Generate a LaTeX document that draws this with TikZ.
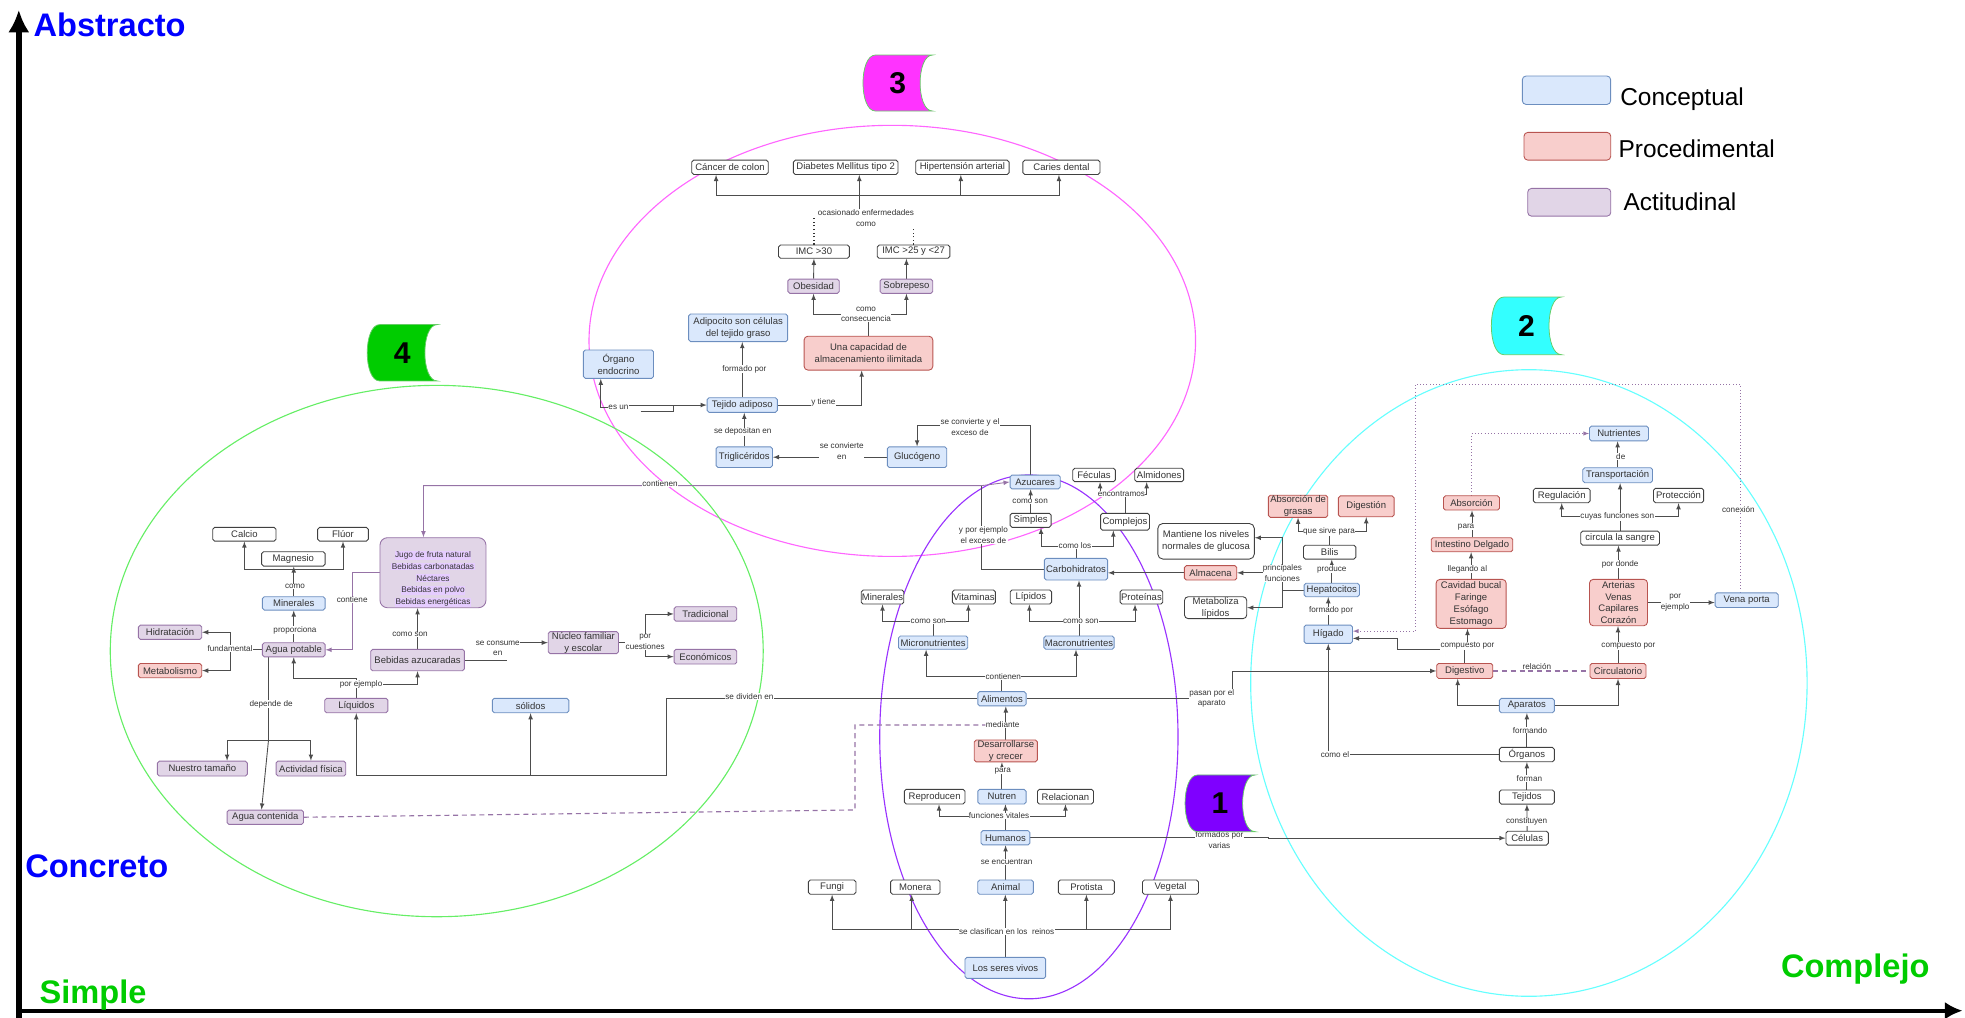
\documentclass[tikz,border=0pt]{standalone}
\usepackage{fontspec}
\setmainfont{Liberation Sans}
\usetikzlibrary{arrows.meta}
\pgfdeclarelayer{edgelayer}
\pgfdeclarelayer{nodelayer}
\pgfsetlayers{edgelayer,nodelayer,main}
\definecolor{concfondo}{HTML}{DAE8FC}
\definecolor{concborde}{HTML}{6C8EBF}
\definecolor{procfondo}{HTML}{F8CECC}
\definecolor{procborde}{HTML}{B85450}
\definecolor{actifondo}{HTML}{E1D5E7}
\definecolor{actiborde}{HTML}{9673A6}
\definecolor{resalte}{HTML}{E5CCFF}
\definecolor{gristexto}{HTML}{333333}
\definecolor{grislinea}{HTML}{4D4D4D}
\definecolor{rosa}{HTML}{FF66FF}
\definecolor{verdeclaro}{HTML}{66EE66}
\definecolor{violeta}{HTML}{9933FF}
\definecolor{celeste}{HTML}{66FFFF}
\definecolor{azultitulo}{HTML}{0000FF}
\definecolor{verdetitulo}{HTML}{00CC00}
\definecolor{insignia3}{HTML}{FF33FF}
\definecolor{insignia4}{HTML}{00CC00}
\definecolor{insignia2}{HTML}{33FFFF}
\definecolor{insignia1}{HTML}{7F00FF}
\definecolor{bordeinsignia}{HTML}{66CC66}
\setlength{\fboxsep}{0.4pt}
\tikzstyle{caja}=[rectangle, rounded corners=1.5pt, line width=0.7pt, text=gristexto, font={\fontsize{7.6}{9.4}\selectfont}, inner sep=0.5pt, align=center, minimum height=11.4pt]
\tikzstyle{conceptual}=[caja, draw=concborde, fill=concfondo]
\tikzstyle{procedimental}=[caja, draw=procborde, fill=procfondo]
\tikzstyle{actitudinal}=[caja, draw=actiborde, fill=actifondo]
\tikzstyle{blanco}=[caja, draw=black!75, fill=white]
\tikzstyle{enlace}=[fill=white, inner sep=0.3pt, text=gristexto, font={\fontsize{6.5}{8.4}\selectfont}, align=center]
\tikzstyle{conector}=[draw=grislinea, line width=0.7pt]
\tikzstyle{flecha}=[-latex, draw=grislinea, line width=0.7pt]
\tikzstyle{flechalila}=[-latex, draw=actiborde, line width=0.7pt]
\tikzstyle{discontinua}=[draw=actiborde, line width=0.9pt, dash pattern=on 4pt off 3pt]
\tikzstyle{punteado}=[draw=black!80, line width=0.9pt, dotted]
\tikzstyle{punteadolila}=[-latex, draw=actiborde, line width=0.6pt, dotted]
\tikzstyle{zona}=[line width=0.9pt]
\tikzstyle{titulo}=[font={\fontsize{26}{26}\selectfont\bfseries}, inner sep=0pt, anchor=base west]
\tikzstyle{leyenda}=[font={\fontsize{19.5}{20}\selectfont}, inner sep=0pt, anchor=base west]
\tikzstyle{numero}=[font={\fontsize{24}{24}\selectfont\bfseries}, text=black, inner sep=0pt]
\tikzstyle{insignia}=[draw=bordeinsignia, line width=0.6pt]

\begin{document}
\begin{tikzpicture}[x=1pt, y=1pt]
	\useasboundingbox (0, 0) rectangle (1568, -812.3);
	\begin{pgfonlayer}{nodelayer}
		\node [style=blanco, minimum width=61pt] (0) at (582.5, -133.5) {Cáncer de colon};
		\node [style=blanco, minimum width=83.5pt] (1) at (674.8, -133.5) {Diabetes Mellitus tipo 2};
		\node [style=blanco, minimum width=74.5pt] (2) at (768, -133.5) {Hipertensión arterial};
		\node [style=blanco, minimum width=61.5pt] (3) at (847, -133.5) {Caries dental};
		\node [style=enlace] (4) at (691, -174.2) {ocasionado enfermedades\\como};
		\node [style=blanco, minimum width=56.5pt, minimum height=10.6pt] (5) at (649.5, -200.8) {IMC >30};
		\node [style=blanco, minimum width=58pt, minimum height=10.6pt] (6) at (729, -200.8) {IMC >25 y <27};
		\node [style=actitudinal, minimum width=41pt] (7) at (649.2, -228.4) {Obesidad};
		\node [style=actitudinal, minimum width=42pt] (8) at (723.3, -228.4) {Sobrepeso};
		\node [style=enlace] (9) at (691, -251) {como\\consecuencia};
		\node [style=conceptual, minimum width=79pt, minimum height=22pt] (10) at (589, -261.6) {Adipocito son células\\del tejido graso};
		\node [style=procedimental, rounded corners=3pt, minimum width=102.7pt, minimum height=27pt] (11) at (693, -281.8) {Una capacidad de\\almacenamiento ilimitada};
		\node [style=conceptual, minimum width=56pt, minimum height=22.6pt] (12) at (493.5, -290.6) {Órgano\\endocrino};
		\node [style=conceptual, minimum width=56pt, minimum height=11.7pt] (13) at (592.3, -323.2) {Tejido adiposo};
		\node [style=enlace] (14) at (594, -294.5) {formado por};
		\node [style=enlace] (15) at (493.5, -325.3) {es un};
		\node [style=enlace] (16) at (657, -321.1) {y tiene};
		\node [style=conceptual, minimum width=45pt, minimum height=16.5pt] (17) at (593.9, -364.8) {Triglicéridos};
		\node [style=enlace] (18) at (592.7, -344.5) {se depositan en};
		\node [style=conceptual, minimum width=47.4pt, minimum height=16.5pt] (19) at (731.8, -364.8) {Glucógeno};
		\node [style=enlace] (20) at (671.7, -360) {se convierte\\en};
		\node [style=enlace] (21) at (774, -341) {se convierte y el\\exceso de};
		\node [style=conceptual, minimum width=40pt, minimum height=11pt] (22) at (826, -384.6) {Azucares};

		\node [style=blanco, minimum width=34pt, minimum height=10.7pt] (23) at (873, -379) {Féculas};
		\node [style=blanco, minimum width=39pt, minimum height=10.7pt] (24) at (925, -379) {Almidones};
		\node [style=enlace] (25) at (894.8, -394.5) {encontramos};
		\node [style=blanco, minimum width=32.7pt, minimum height=11.2pt] (26) at (822.4, -415.2) {Simples};
		\node [style=enlace] (27) at (822, -400.3) {como son};
		\node [style=blanco, minimum width=39pt, minimum height=13.4pt] (28) at (897.7, -416.3) {Complejos};
		\node [style=conceptual, minimum width=50.5pt, minimum height=17.3pt] (29) at (858.6, -454.2) {Carbohidratos};
		\node [style=enlace] (30) at (857.8, -435.7) {como los};
		\node [style=enlace] (31) at (784.7, -427) {y por ejemplo\\el exceso de};
		\node [style=blanco, minimum width=33pt, minimum height=11.2pt] (32) at (704.2, -476.4) {Minerales};
		\node [style=blanco, minimum width=33.8pt, minimum height=11.2pt] (33) at (777.1, -476.4) {Vitaminas};
		\node [style=blanco, minimum width=33pt, minimum height=11.2pt] (34) at (822.6, -476.4) {Lípidos};
		\node [style=blanco, minimum width=34pt, minimum height=11.2pt] (35) at (910.8, -476.4) {Proteínas};
		\node [style=enlace] (36) at (740.8, -495.5) {como son};
		\node [style=enlace] (37) at (862.4, -495.5) {como son};
		\node [style=conceptual, minimum width=55.3pt, minimum height=10.6pt] (38) at (744.6, -512.8) {Micronutrientes};
		\node [style=conceptual, minimum width=56pt, minimum height=10.6pt] (39) at (861, -512.8) {Macronutrientes};
		\node [style=enlace] (40) at (800.6, -540) {contienen};
		\node [style=conceptual, minimum width=38.5pt] (41) at (799.5, -557.6) {Alimentos};
		\node [style=enlace] (42) at (800.1, -578.5) {mediante};
		\node [style=procedimental, minimum width=50.3pt, minimum height=17.3pt] (43) at (802.6, -599.2) {Desarrollarse\\y crecer};
		\node [style=enlace] (44) at (800.1, -615) {para};
		\node [style=blanco, minimum width=48.4pt, minimum height=11.7pt] (45) at (745.8, -635.7) {Reproducen};
		\node [style=conceptual, minimum width=38.5pt, minimum height=11.7pt] (46) at (799.5, -635.7) {Nutren};
		\node [style=blanco, minimum width=44.7pt, minimum height=11.7pt] (47) at (850.2, -635.7) {Relacionan};
		\node [style=enlace] (48) at (797.2, -651.1) {funciones vitales};
		\node [style=conceptual, minimum width=39pt] (49) at (802.3, -668.5) {Humanos};
		\node [style=enlace] (50) at (803.3, -687.6) {se encuentran};
		\node [style=blanco, minimum width=38pt] (51) at (664, -707.9) {Fungi};
		\node [style=blanco, minimum width=39.4pt] (52) at (730.4, -707.9) {Monera};
		\node [style=conceptual, minimum width=44.4pt] (53) at (802.4, -707.9) {Animal};
		\node [style=blanco, minimum width=44.7pt] (54) at (866.9, -707.9) {Protista};
		\node [style=blanco, minimum width=44.7pt] (55) at (934, -707.9) {Vegetal};
		\node [style=enlace] (56) at (803.3, -743.4) {se clasifican en los\ \ reinos};
		\node [style=conceptual, minimum width=64.4pt, minimum height=16.8pt] (57) at (802.2, -772.3) {Los seres vivos};
		\node [style=enlace] (58) at (973, -670.5) {formados por\\varias};
		\node [style=enlace] (59) at (966.9, -557.3) {pasan por el\\aparato};
		\node [style=enlace] (60) at (598, -556) {se dividen en};

		\node [style=procedimental, minimum width=47.4pt, minimum height=16.7pt] (61) at (1035.8, -404) {Absorción de\\grasas};
		\node [style=procedimental, minimum width=44.4pt, minimum height=16.7pt] (62) at (1090.2, -404) {Digestión};
		\node [style=enlace] (63) at (1060.5, -424.3) {que sirve para};
		\node [style=blanco, rounded corners=4pt, minimum width=77pt, minimum height=28.4pt] (64) at (962.4, -431.9) {Mantiene los niveles\\normales de glucosa};
		\node [style=blanco, minimum width=41.8pt, minimum height=11.1pt] (65) at (1061, -440.6) {Bilis};
		\node [style=enlace] (66) at (1062.7, -454.1) {produce};
		\node [style=procedimental, minimum width=41.8pt, minimum height=11.5pt] (67) at (966, -457.1) {Almacena};
		\node [style=conceptual, minimum width=44.2pt, minimum height=10.7pt] (68) at (1062.7, -470.8) {Hepatocitos};
		\node [style=enlace] (69) at (1023.3, -457.5) {principales\\funciones};
		\node [style=blanco, rounded corners=3pt, minimum width=49.7pt, minimum height=17.3pt] (70) at (970, -484.9) {Metaboliza\\lípidos};
		\node [style=enlace] (71) at (1062.1, -487.4) {formado por};
		\node [style=conceptual, minimum width=38.6pt, minimum height=14.6pt] (72) at (1059.9, -506.1) {Hígado};
		\node [style=conceptual, minimum width=47.1pt, minimum height=11.7pt] (73) at (1291.9, -345.9) {Nutrientes};
		\node [style=enlace] (74) at (1293.3, -364.5) {de};
		\node [style=conceptual, minimum width=55.6pt, minimum height=12pt] (75) at (1290.8, -379.2) {Transportación};
		\node [style=blanco, minimum width=45.2pt, minimum height=11.5pt] (76) at (1246.2, -395.4) {Regulación};
		\node [style=blanco, minimum width=40pt, minimum height=11.5pt] (77) at (1339.4, -395.4) {Protección};
		\node [style=enlace] (78) at (1290.6, -412.3) {cuyas funciones son};
		\node [style=blanco, minimum width=62.8pt, minimum height=11.2pt] (79) at (1292.8, -429.4) {circula la sangre};
		\node [style=enlace] (80) at (1292.8, -450.1) {por donde};
		\node [style=procedimental, rounded corners=3pt, minimum width=46.3pt, minimum height=37pt] (81) at (1291.5, -480.8) {Arterias\\Venas\\Capilares\\Corazón};
		\node [style=enlace] (82) at (1336.7, -481) {por\\ejemplo};
		\node [style=conceptual, minimum width=50.4pt, minimum height=11.7pt] (83) at (1393.8, -478.9) {Vena porta};
		\node [style=enlace] (84) at (1387.2, -406.5) {conexión};
		\node [style=procedimental, minimum width=44.7pt] (85) at (1174.2, -401.3) {Absorción};
		\node [style=enlace] (86) at (1169.9, -420.3) {para};
		\node [style=procedimental, minimum width=65.1pt, minimum height=11.2pt] (87) at (1174.6, -434.7) {Intestino Delgado};
		\node [style=enlace] (88) at (1170.9, -454.1) {llegando al};
		\node [style=procedimental, rounded corners=3pt, minimum width=55.9pt, minimum height=39.1pt] (89) at (1173.9, -481.9) {Cavidad bucal\\Faringe\\Esófago\\Estomago};
		\node [style=enlace] (90) at (1171, -515.3) {compuesto por};
		\node [style=procedimental, minimum width=44.7pt, minimum height=12pt] (91) at (1168.8, -535.4) {Digestivo};
		\node [style=procedimental, minimum width=44.7pt, minimum height=12pt] (92) at (1291.1, -535.4) {Circulatorio};
		\node [style=enlace] (93) at (1299.4, -515.3) {compuesto por};
		\node [style=enlace] (94) at (1226.3, -532) {relación};
		\node [style=conceptual, minimum width=43.9pt] (95) at (1218.4, -563) {Aparatos};
		\node [style=enlace] (96) at (1220.9, -582.6) {formando};
		\node [style=blanco, minimum width=43.9pt] (97) at (1218.4, -602.1) {Órganos};
		\node [style=enlace] (98) at (1220.4, -621.1) {forman};
		\node [style=blanco, minimum width=43.9pt, minimum height=11.2pt] (99) at (1218.4, -636) {Tejidos};
		\node [style=enlace] (100) at (1218.2, -655.7) {constituyen};
		\node [style=blanco, minimum width=33.8pt, minimum height=11.1pt] (101) at (1218.6, -668.8) {Células};
		\node [style=enlace] (102) at (1065.3, -602) {como el};

		\node [style=blanco, minimum width=50.5pt, minimum height=10.9pt] (103) at (195, -426.3) {Calcio};
		\node [style=blanco, minimum width=40.4pt, minimum height=10.9pt] (104) at (273.7, -426.3) {Flúor};
		\node [style=blanco, minimum width=50.6pt] (105) at (234.1, -446) {Magnesio};
		\node [style=enlace] (106) at (235.4, -467.7) {como};
		\node [style=conceptual, minimum width=50pt, minimum height=10.6pt] (107) at (234.4, -481.5) {Minerales};
		\node [style=enlace] (108) at (235.4, -502.8) {proporciona};
		\node [style=actitudinal, minimum width=50pt, minimum height=11.2pt] (109) at (234.4, -518.5) {Agua potable};
		\node [style=actitudinal, minimum width=50.5pt] (110) at (135.7, -504.5) {Hidratación};
		\node [style=procedimental, minimum width=50.5pt] (111) at (135.7, -535.1) {Metabolismo};
		\node [style=enlace] (112) at (183.6, -517.4) {fundamental};
		\node [style=actitudinal, rounded corners=6pt, minimum width=84.6pt, minimum height=55.9pt] (113) at (345.5, -457) {};
		\node [font={\fontsize{6.6}{9.3}\selectfont}, text=gristexto, align=center, inner sep=0pt] (141) at (345.5, -461.9) {\colorbox{resalte}{Jugo de fruta natural}\\\colorbox{resalte}{Bebidas carbonatadas}\\\colorbox{resalte}{Néctares}\\\colorbox{resalte}{Bebidas en polvo}\\\colorbox{resalte}{Bebidas energéticas}};
		\node [style=enlace] (114) at (281, -478.8) {contiene};
		\node [style=actitudinal, minimum width=74.8pt, minimum height=17pt] (115) at (333.2, -526.7) {Bebidas azucaradas};
		\node [style=enlace] (116) at (327.2, -506) {como son};
		\node [style=enlace] (117) at (288.1, -545.9) {por ejemplo};
		\node [style=enlace] (118) at (397.2, -517.2) {se consume\\en};
		\node [style=actitudinal, minimum width=56pt, minimum height=17.3pt] (119) at (465.5, -512.8) {Núcleo familiar\\y escolar};
		\node [style=enlace] (120) at (514.8, -512.3) {por\\cuestiones};
		\node [style=actitudinal, minimum width=50pt, minimum height=11.5pt] (121) at (562.9, -489.9) {Tradicional};
		\node [style=actitudinal, minimum width=50pt, minimum height=11.7pt] (122) at (562.9, -524) {Económicos};
		\node [style=actitudinal, minimum width=50.4pt, minimum height=11.5pt] (123) at (284.3, -563) {Líquidos};
		\node [style=conceptual, minimum width=61pt, minimum height=11.5pt] (124) at (423.4, -563) {sólidos};
		\node [style=enlace] (125) at (216.3, -561.8) {depende de};
		\node [style=actitudinal, minimum width=71.8pt, minimum height=11.9pt] (126) at (161.5, -613.3) {Nuestro tamaño};
		\node [style=actitudinal, minimum width=55.6pt, minimum height=11.9pt] (127) at (248.1, -613.3) {Actividad física};
		\node [style=actitudinal, minimum width=61pt] (128) at (211.7, -652.1) {Agua contenida};
		\node [style=enlace] (129) at (526.7, -386.2) {contienen};

		\node [style=conceptual, rounded corners=3pt, minimum width=70.5pt, minimum height=22.7pt] (130) at (1250, -72) {};
		\node [style=procedimental, rounded corners=3pt, minimum width=69.2pt, minimum height=22.1pt] (131) at (1250.7, -116.7) {};
		\node [style=actitudinal, rounded corners=3pt, minimum width=66.3pt, minimum height=22.1pt] (132) at (1252.2, -161.4) {};
		\node [style=leyenda] (133) at (1292.7, -84) {Conceptual};
		\node [style=leyenda] (134) at (1291.4, -126) {Procedimental};
		\node [style=leyenda] (135) at (1295.4, -168) {Actitudinal};
	\end{pgfonlayer}
	\begin{pgfonlayer}{edgelayer}
		\draw [style=zona, draw=rosa] (712, -272) ellipse [x radius=242pt, y radius=172pt];
		\draw [style=zona, draw=verdeclaro] (348.5, -519.5) ellipse [x radius=260.5pt, y radius=212pt];
		\draw [style=zona, draw=violeta] (821, -588) ellipse [x radius=119pt, y radius=209pt];
		\draw [style=zona, draw=celeste] (1220, -545) ellipse [x radius=222pt, y radius=250pt];

		\coordinate (c0) at (685.7, -155.6);
		\coordinate (c1) at (423.4, -618.5);
		\coordinate (c2) at (783.4, -387.5);
		\coordinate (c3) at (234.1, -454.1);
		\coordinate (c4) at (214.2, -591.1);
		\coordinate (c5) at (682.3, -646.3);
		\coordinate (c6) at (1129.2, -306.5);
		\coordinate (c7) at (802.5, -741.3);

		\draw [style=conector] (c0 |- 4.north) -- (c0);
		\draw [style=flecha] (c0) -| ([xshift=-11.1pt]0.south);
		\draw [style=flecha] (c0) -- ([xshift=10.9pt]1.south);
		\draw [style=flecha] (c0) -| ([xshift=-1.3pt]2.south);
		\draw [style=flecha] (c0) -| ([xshift=-2pt]3.south);
		\draw [style=punteado] (5.north) -- (5.north |- 4.west);
		\draw [style=punteado] (6.north) -- (6.north |- 4.east);
		\draw [style=flecha] (7.north) -- (5.south);
		\draw [style=flecha] (8.north) -- (8.north |- 6.south);
		\draw [style=conector] (11.north) -- (11.north |- 9.center);
		\draw [style=flecha] (11.north |- 9.center) -| (7.south);
		\draw [style=flecha] (11.north |- 9.center) -| (8.south);
		\draw [style=flecha] (13.north) -- (13.north |- 10.south);
		\draw [style=flecha] (15.west) -| ([xshift=-14.1pt]12.south);
		\draw [style=flecha] (15.east |- 13.west) -- (13.west);
		\draw [style=conector] ([xshift=9.2pt, yshift=-3.3pt]15.east) -- ++(26.6, 0) -- ++(0, 5.4);
		\draw [style=flecha] (13.east) -| ([xshift=-5.4pt]11.south);
		\draw [style=flecha] (17.north) -- (17.north |- 13.south);
		\draw [style=flecha] (19.west) -- (17.east);
		\draw [style=flecha] ([xshift=-4pt]22.north) -- ++(0, 39.5) -| (19.north);
		\draw [style=flechalila, latex-latex] ([xshift=-7.6pt]113.north) |- (c2) -- (22.west);
		\draw [style=conector] (29.west) -| (c2);

		\draw [style=flecha] (26.north) -- (26.north |- 22.south);
		\draw [style=conector] (28.north) -- (28.north |- 25.center);
		\draw [style=flecha] (28.north |- 25.center) -| ([xshift=4.8pt]23.south);
		\draw [style=flecha] (28.north |- 25.center) -| ([xshift=-10pt]24.south);
		\draw [style=conector] (29.north) -- (29.north |- 30.center);
		\draw [style=flecha] (29.north |- 30.center) -| ([xshift=8.3pt]26.south);
		\draw [style=flecha] (29.north |- 30.center) -| ([xshift=-9.3pt]28.south);
		\draw [style=flecha] (67.west) -- (67.west -| 29.east);
		\draw [style=flecha] (39.north) -- (39.north |- 29.south);
		\draw [style=flecha] (39.north |- 37.center) -| ([xshift=-1.2pt]34.south);
		\draw [style=flecha] (39.north |- 37.center) -| ([xshift=-5.1pt]35.south);
		\draw [style=conector] (38.north) -- (38.north |- 36.center);
		\draw [style=flecha] (38.north |- 36.center) -| (32.south);
		\draw [style=flecha] (38.north |- 36.center) -| ([xshift=-4.4pt]33.south);
		\draw [style=conector] (41.north) -- (41.north |- 40.center);
		\draw [style=flecha] (41.north |- 40.center) -| ([xshift=-5.6pt]38.south);
		\draw [style=flecha] (41.north |- 40.center) -| ([xshift=-2.4pt]39.south);
		\draw [style=flecha] (43.north) -- (43.north |- 41.south);
		\draw [style=flecha] (46.north) -- (46.north |- 43.south);
		\draw [style=conector] (49.north) -- (49.north |- 48.center);
		\draw [style=flecha] (49.north |- 48.center) -| ([xshift=3.5pt]45.south);
		\draw [style=flecha] (49.north |- 48.center) -- (49.north |- 46.south);
		\draw [style=flecha] (49.north |- 48.center) -| (47.south);
		\draw [style=flecha] (53.north) -- (53.north |- 49.south);
		\draw [style=flecha] (57.north) -- (57.north |- 53.south);
		\draw [style=flecha] (c7) -| (51.south);
		\draw [style=flecha] (c7) -| ([xshift=-2.9pt]52.south);
		\draw [style=flecha] (c7) -| (54.south);
		\draw [style=flecha] (c7) -| (55.south);
		\draw [style=flecha] (49.east) -- ++(190.2, 0) |- (101.west);
		\draw [style=flecha] (41.east) -- ++(164.2, 0) |- (91.west);
		\draw [style=flecha] (41.west) -| ++(-248.4, -60.9) -| (123.south);
		\draw [style=flecha] (c1) -- (124.south);
		\draw [style=discontinua] (128.east) -- (c5) |- (42.west);

		\draw [style=conector] (65.north) -- (65.north |- 63.center);
		\draw [style=flecha] (65.north |- 63.center) -| (61.south);
		\draw [style=flecha] (65.north |- 63.center) -| (62.south);
		\draw [style=flecha] (68.north) -- (68.north |- 65.south);
		\draw [style=conector] (68.west) -- (68.west -| 69.center);
		\draw [style=flecha] (68.west -| 69.center) |- ([yshift=2.8pt]64.east);
		\draw [style=flecha] (68.west -| 69.center) |- (67.east);
		\draw [style=flecha] (68.west -| 69.center) |- (70.east);
		\draw [style=flecha] (72.north) -- (72.north |- 68.south);
		\draw [style=conector] (91.north) -- (91.north |- 90.center);
		\draw [style=flecha] (90.center) -- (90.center |- 89.south);
		\draw [style=flecha] ([yshift=-2.9pt]90.west) -- ++(-34, 0) |- ([yshift=-3.3pt]72.east);
		\draw [style=punteadolila] ([xshift=-5.3pt]83.north) |- (c6) |- ([yshift=2.5pt]72.east);
		\draw [style=punteadolila] (85.north) |- (73.west);
		\draw [style=flecha] (87.north) -- (87.north |- 85.south);
		\draw [style=flecha] (89.north) -- (89.north |- 87.south);
		\draw [style=flecha] (75.north) -- (75.north |- 73.south);
		\draw [style=conector] (79.north) -- (79.north |- 78.center);
		\draw [style=flecha] (79.north |- 78.center) -| (76.south);
		\draw [style=flecha] (79.north |- 78.center) -| (77.south);
		\draw [style=flecha] (79.north |- 78.center) -- (79.north |- 75.south);
		\draw [style=flecha] (81.north) -- (81.north |- 79.south);
		\draw [style=flecha] (92.north) -- (92.north |- 81.south);
		\draw [style=flecha] (81.east) -- (81.east -| 83.west);
		\draw [style=discontinua] (91.east) -- (92.west);
		\draw [style=flecha] (95.west) -| ([xshift=-5.6pt]91.south);
		\draw [style=flecha] (95.east) -| (92.south);
		\draw [style=flecha] (97.north) -- (95.south);
		\draw [style=flecha] (99.north) -- (97.south);
		\draw [style=flecha] (101.north) -- (99.south);
		\draw [style=flecha] (97.west) -| (72.south);

		\draw [style=flecha] (107.north) -- (107.north |- 105.south);
		\draw [style=flecha] (c3) -| (103.south);
		\draw [style=flecha] (c3) -| (104.south);
		\draw [style=flecha] (109.north) -- (109.north |- 107.south);
		\draw [style=conector] (109.west) -- (109.west -| 112.center);
		\draw [style=flecha] (112.center) |- (110.east);
		\draw [style=flecha] (112.center) |- (111.east);
		\draw [style=flechalila] (113.west) -| (114.center) |- (109.east);
		\draw [style=flecha] (115.north) -- (115.north |- 113.south);
		\draw [style=flecha] (123.north) -- ++(0, 15.9) -| (109.south);
		\draw [style=flecha] (123.north |- 117.center) -| (115.south);
		\draw [style=conector] (115.east) -- ++(33.8, 0);
		\draw [style=flecha] (118.east |- 119.west) -- (119.west);
		\draw [style=conector] (119.east) -- (119.east -| 120.center);
		\draw [style=flecha] (120.center) |- (121.west);
		\draw [style=flecha] (120.center) |- (122.west);
		\draw [style=conector] ([xshift=-20.2pt]109.south) -- (c4);
		\draw [style=flecha] (c4) -| ([xshift=19.7pt]126.north);
		\draw [style=flecha] (c4) -| (127.north);
		\draw [style=flecha] (c4) -- ([xshift=-3pt]128.north);
	\end{pgfonlayer}

	\draw [line width=4.5pt, -{Latex[length=18pt, width=17pt]}] (15, -812.3) -- (15, -7.8);
	\draw [line width=3pt, -{Latex[length=14pt, width=14pt]}] (13, -806.5) -- (1566, -806.5);
	\node [style=titulo, text=azultitulo] (136) at (26.6, -29.5) {Abstracto};
	\node [style=titulo, text=azultitulo] (137) at (20, -700) {Concreto};
	\node [style=titulo, text=verdetitulo] (138) at (31.4, -801) {Simple};
	\node [style=titulo, text=verdetitulo] (139) at (1421, -780) {Complejo};

	\draw [style=insignia, fill=insignia3] (698.6, -43.9) -- (744.2, -43.9) .. controls (730.9, -43.9) and (730.9, -88.6) .. (744.2, -88.6) -- (698.6, -88.6) .. controls (685.3, -88.6) and (685.3, -43.9) .. (698.6, -43.9) -- cycle;
	\draw [style=insignia, fill=insignia4] (303, -259) -- (349, -259) .. controls (335.7, -259) and (335.7, -304) .. (349, -304) -- (303, -304) .. controls (289.7, -304) and (289.7, -259) .. (303, -259) -- cycle;
	\draw [style=insignia, fill=insignia2] (1200, -237) -- (1246, -237) .. controls (1232.7, -237) and (1232.7, -283) .. (1246, -283) -- (1200, -283) .. controls (1186.7, -283) and (1186.7, -237) .. (1200, -237) -- cycle;
	\draw [style=insignia, fill=insignia1] (955.6, -618.4) -- (1001.5, -618.4) .. controls (988.2, -618.4) and (988.2, -663.6) .. (1001.5, -663.6) -- (955.6, -663.6) .. controls (942.3, -663.6) and (942.3, -618.4) .. (955.6, -618.4) -- cycle;
	\node [style=numero] (140) at (716.4, -66.3) {3};
	\node [style=numero] (142) at (321, -281.5) {4};
	\node [style=numero] (143) at (1218, -260) {2};
	\node [style=numero] (144) at (973.5, -641) {1};
\end{tikzpicture}
\end{document}
